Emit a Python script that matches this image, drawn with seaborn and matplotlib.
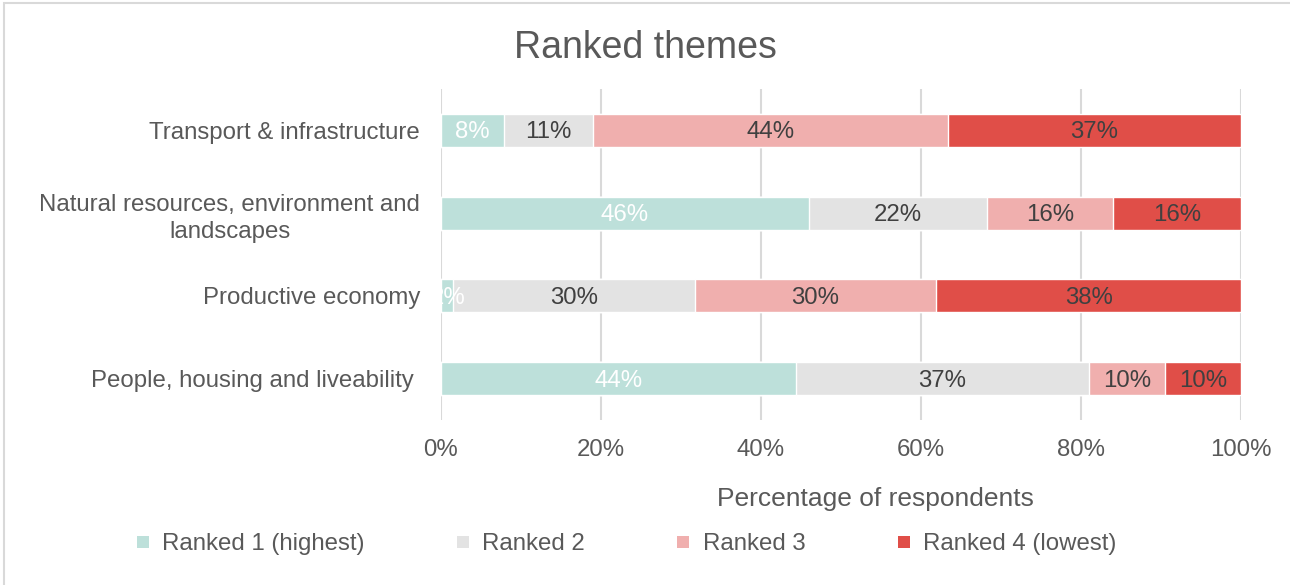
import matplotlib
matplotlib.use("Agg")
import matplotlib.pyplot as plt
from matplotlib.lines import Line2D
from matplotlib.patches import Rectangle
import matplotlib.transforms as mtransforms
import numpy as np
import pandas as pd
import seaborn as sns

# ---- data ----
categories = [
    "Transport & infrastructure",
    "Natural resources, environment and\nlandscapes",
    "Productive economy",
    "People, housing and liveability ",
]
series_names = ["Ranked 1 (highest)", "Ranked 2", "Ranked 3", "Ranked 4 (lowest)"]
ranked_1 = [7.9, 46.0, 1.5, 44.4]
ranked_2 = [11.1, 22.2, 30.2, 36.6]
ranked_3 = [44.4, 15.8, 30.2, 9.5]
ranked_4 = [36.6, 16.0, 38.1, 9.5]
x_ticks = [0, 20, 40, 60, 80, 100]

colors = ["#BDE0DA", "#E3E3E3", "#F0AFAE", "#E04E48"]
label_colors = ["white", "#404040", "#404040", "#404040"]

sns.set_theme(style="white")
plt.rcParams["font.family"] = ["Liberation Sans", "DejaVu Sans"]

W, H = 1290, 585
FS = 17.3
fig = plt.figure(figsize=(W / 100, H / 100), dpi=100)
ax = fig.add_axes([441 / W, 1 - 420 / H, 800 / W, 331 / H])

series = [ranked_1, ranked_2, ranked_3, ranked_4]
cum = np.cumsum(np.array(series), axis=0)  # shape (4 series, 4 cats)

# draw cumulative bars, longest first so each segment stays visible
for i in reversed(range(len(series))):
    df = pd.DataFrame({"category": categories, "value": cum[i]})
    sns.barplot(data=df, x="value", y="category", orient="h", color=colors[i],
                width=0.4, saturation=1, ax=ax, errorbar=None)

# data labels
lab_tr = mtransforms.offset_copy(ax.transData, fig=fig, x=0, y=-2, units="dots")
for i in range(len(series)):
    for j, cat in enumerate(categories):
        v = series[i][j]
        left = cum[i][j] - v
        ax.text(left + v / 2 + (0.2 if v < 3 else 0), j, f"{v:.0f}%",
                ha="center", va="center", fontsize=FS, color=label_colors[i],
                transform=lab_tr, clip_on=True)

ax.set_xlim(0, 100)
ax.set_ylim(3.5, -0.5)
ax.set_xticks(x_ticks)
ax.set_xticklabels([f"{t}%" for t in x_ticks])
ax.set_xlabel("")
ax.set_ylabel("")
ax.tick_params(axis="x", length=0, pad=14, labelsize=FS, labelcolor="#595959")
ax.tick_params(axis="y", length=0, pad=15, labelsize=FS, labelcolor="#595959")
for lab in ax.get_yticklabels():
    lab.set_multialignment("center")
    lab.set_linespacing(1.3)
ax.grid(axis="x", color="#D9D9D9", linewidth=1.5)
ax.grid(axis="y", visible=False)
ax.set_axisbelow(True)
for s in ax.spines.values():
    s.set_visible(False)

fig.text(0.5, 1 - 48 / H, "Ranked themes", ha="center", va="center",
         fontsize=27, color="#595959")
fig.text(875.5 / W, 1 - 499 / H, "Percentage of respondents", ha="center",
         va="center", fontsize=19, color="#595959")

handles = [Line2D([], [], marker="s", linestyle="", markersize=8.6,
                  markerfacecolor=c, markeredgewidth=0) for c in colors]
leg = fig.legend(handles, series_names, ncol=4, loc="center",
                 bbox_to_anchor=(626 / W, 1 - 544 / H), frameon=False,
                 fontsize=FS, handlelength=0.6, handletextpad=0.5,
                 columnspacing=3.8)
for t in leg.get_texts():
    t.set_color("#595959")

# chart border (top and left visible in crop)
fig.patches.append(Rectangle((4 / W, -0.1), 1.2, 1.1 - 3 / H,
                             transform=fig.transFigure, fill=False,
                             edgecolor="#D9D9D9", linewidth=1.5))

fig.savefig("out.png", dpi=100)
